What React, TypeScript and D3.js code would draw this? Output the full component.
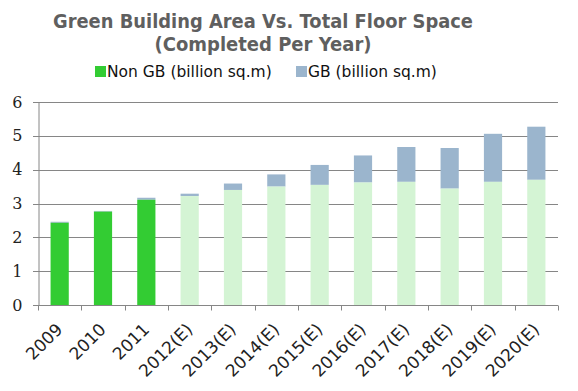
import { useRef, useEffect } from 'react';
import * as d3 from 'd3';

const years = ['2009', '2010', '2011', '2012(E)', '2013(E)', '2014(E)', '2015(E)', '2016(E)', '2017(E)', '2018(E)', '2019(E)', '2020(E)'];
const nonGB = [2.43, 2.76, 3.11, 3.22, 3.4, 3.5, 3.55, 3.62, 3.64, 3.44, 3.64, 3.7];
const gb = [0.03, 0.02, 0.06, 0.07, 0.19, 0.36, 0.59, 0.8, 1.03, 1.2, 1.42, 1.57];
const yTicks = [0, 1, 2, 3, 4, 5, 6];
const titleLines = ['Green Building Area Vs. Total Floor Space', '(Completed Per Year)'];
const titleWidths = [420, 217];

const W = 578;
const H = 391;

export default function App() {
  const ref = useRef<SVGSVGElement>(null);

  useEffect(() => {
    if (!ref.current) return;
    const svg = d3.select(ref.current);
    svg.selectAll('*').remove();

    const margin = { top: 102, right: 20, bottom: 86, left: 38 };
    const x = d3.scaleBand<string>()
      .domain(years)
      .range([margin.left, W - margin.right])
      .paddingInner(0.58)
      .paddingOuter(0.29);
    const y = d3.scaleLinear().domain([0, 6]).range([H - margin.bottom, margin.top]);

    // title
    svg.append('g')
      .selectAll('text')
      .data(titleLines)
      .join('text')
      .attr('x', 263)
      .attr('y', (_, i) => 28 + i * 23)
      .attr('text-anchor', 'middle')
      .attr('font-family', 'DejaVu Sans')
      .attr('font-weight', 'bold')
      .attr('font-size', 20)
      .attr('textLength', (_, i) => titleWidths[i])
      .attr('lengthAdjust', 'spacingAndGlyphs')
      .attr('fill', '#5f5f5f')
      .text(d => d);

    // legend
    const legend = [
      { label: 'Non GB (billion sq.m)', color: '#33cc33', x: 95 },
      { label: 'GB (billion sq.m)', color: '#9bb5cd', x: 296 },
    ];
    const lg = svg.append('g').selectAll('g').data(legend).join('g')
      .attr('transform', d => `translate(${d.x},66)`);
    lg.append('rect').attr('width', 11).attr('height', 11).attr('fill', d => d.color);
    lg.append('text')
      .attr('x', 12)
      .attr('y', 11)
      .attr('font-family', 'DejaVu Sans')
      .attr('font-size', 15.5)
      .attr('fill', '#111')
      .text(d => d.label);

    // gridlines
    svg.append('g')
      .selectAll('line')
      .data(yTicks)
      .join('line')
      .attr('x1', margin.left - 5)
      .attr('x2', W - margin.right)
      .attr('y1', d => Math.round(y(d)) + 0.5)
      .attr('y2', d => Math.round(y(d)) + 0.5)
      .attr('stroke', '#868686')
      .attr('stroke-width', 1);

    // bars
    const rows = years.map((yr, i) => ({ yr, i, a: nonGB[i], b: gb[i] }));
    const bars = svg.append('g');
    bars.selectAll('rect.gb')
      .data(rows)
      .join('rect')
      .attr('class', 'gb')
      .attr('x', d => x(d.yr)!)
      .attr('width', x.bandwidth())
      .attr('y', d => y(d.a + d.b))
      .attr('height', d => y(d.a) - y(d.a + d.b))
      .attr('fill', '#9bb5cd');
    bars.selectAll('rect.ngb')
      .data(rows)
      .join('rect')
      .attr('class', 'ngb')
      .attr('x', d => x(d.yr)!)
      .attr('width', x.bandwidth())
      .attr('y', d => y(d.a))
      .attr('height', d => y(0) - y(d.a))
      .attr('fill', d => (d.i < 3 ? '#33cc33' : '#d4f4d4'));

    // y axis
    const yAxis = svg.append('g')
      .attr('transform', `translate(${margin.left + 0.5},0)`)
      .call(d3.axisLeft(y).tickValues(yTicks).tickSize(5).tickFormat(d3.format('d')));
    yAxis.select('.domain').attr('stroke', '#868686');
    yAxis.selectAll('.tick line').remove();
    yAxis.selectAll('.tick text')
      .attr('x', -16)
      .attr('font-family', 'DejaVu Serif')
      .attr('font-size', 16)
      .attr('fill', '#222');

    // x axis
    const y0 = Math.round(y(0)) + 0.5;
    const xg = svg.append('g');
    xg.selectAll('line')
      .data(d3.range(years.length + 1))
      .join('line')
      .attr('x1', i => Math.round(margin.left + i * x.step()) + 0.5)
      .attr('x2', i => Math.round(margin.left + i * x.step()) + 0.5)
      .attr('y1', y0)
      .attr('y2', y0 + 5)
      .attr('stroke', '#868686');
    xg.selectAll('text')
      .data(years)
      .join('text')
      .attr('transform', d => `translate(${x(d)! + x.bandwidth() / 2 + 4},${y0 + 25}) rotate(-45)`)
      .attr('text-anchor', 'end')
      .attr('font-family', 'DejaVu Sans')
      .attr('font-size', 17)
      .attr('fill', '#222')
      .text(d => d);
  }, []);

  return <svg ref={ref} width={W} height={H} style={{ display: 'block', margin: -8 }} />;
}
